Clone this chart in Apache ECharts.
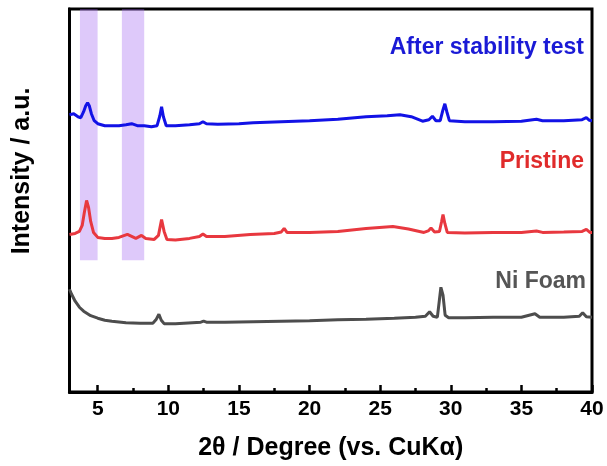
<!DOCTYPE html>
<html><head><meta charset="utf-8">
<script src="https://cdn.jsdelivr.net/npm/echarts@6/dist/echarts.min.js"></script>
<style>html,body{margin:0;padding:0;background:#fff}#c{width:607px;height:466px}</style>
</head><body><div id="c"></div>
<script>
// 2θ (deg) and offset intensity (a.u.) pairs
const afterStability = [[3.0,278],[3.3,279],[3.6,276],[3.8,275],[4.0,281],[4.15,287],[4.28,290],[4.4,287],[4.55,279],[4.75,272],[5.0,269],[5.5,267],[6.0,267],[6.5,267],[7.0,268],[7.4,269],[7.8,267],[8.3,267],[8.8,266],[9.2,267],[9.4,277],[9.52,286],[9.65,276],[9.85,267],[10.5,267],[11.5,268],[12.2,269],[12.45,271],[12.7,269],[13.5,268.5],[15,269],[16,270],[18,271],[20,272],[22,273.5],[24,276],[25.5,277],[26.4,278],[27.2,276],[28.0,271.5],[28.45,273],[28.7,276.5],[28.95,272],[29.25,272],[29.45,283],[29.58,289],[29.72,281],[29.9,272],[31,271],[33,271],[35,271.5],[36.07,273.5],[36.5,272],[38,272],[39.3,273],[39.6,275],[39.8,272.5],[40,272]];
const pristine = [[3.0,158],[3.4,159],[3.7,161],[3.9,167],[4.05,180],[4.21,192],[4.35,185],[4.5,171],[4.7,160],[5.0,155],[5.5,154],[6.0,154],[6.5,155],[6.9,157],[7.1,158],[7.4,156],[7.7,154],[8.1,157],[8.4,154],[9.0,153],[9.3,157],[9.52,173],[9.7,161],[9.9,153],[10.5,152.5],[11.5,154],[12.2,156],[12.45,158.5],[12.7,156],[14,156],[15.8,158],[17.5,159],[18.0,160.5],[18.2,164],[18.4,160],[20,160],[22,161],[24,164],[25.9,166],[27,163.5],[28.1,160],[28.4,161.5],[28.6,164.5],[28.85,160.5],[29.2,161],[29.35,171],[29.45,178],[29.58,169],[29.75,160],[31,159.5],[33,160],[35,160],[36.07,161.5],[36.5,160],[38,160.5],[39.3,161],[39.6,163],[39.85,160],[40,160]];
const niFoam = [[3.0,103],[3.15,98],[3.4,91],[3.7,85],[4.0,81],[4.5,76.5],[5.0,74],[5.5,72],[6.0,71],[7.0,69.5],[8.0,69],[8.9,69],[9.15,73],[9.33,78],[9.5,72],[9.7,68.5],[10.5,68.5],[12.3,70],[12.5,71],[12.7,70],[14,70],[16,70.5],[18,71],[20,71.5],[22,72.5],[24,73],[26,74],[27.5,75],[28.2,76],[28.5,80.5],[28.75,76],[29.05,75],[29.2,93],[29.3,105],[29.35,106],[29.45,97],[29.6,77],[29.85,74.5],[31,74.5],[33,75],[35,75],[35.96,78.5],[36.3,75],[38,75],[39.1,76],[39.34,79.5],[39.6,75.5],[40,75]];
const bands = [[3.74,4.99],[6.71,8.29]];
const bandTop = 132;
const majorTicks = [5,10,15,20,25,30,35,40];
const minorTicks = [7.5,12.5,17.5,22.5,27.5,32.5,37.5];
const seriesNames = ['After stability test','Pristine','Ni Foam'];
const yTitle = 'Intensity / a.u.';

const chart = echarts.init(document.getElementById('c'));
const W = 607, H = 466;
const FONT = 'Liberation Sans, Arial';
chart.setOption({
  animation:false,
  grid:{left:69.5,right:15,top:9,bottom:73,show:true,borderColor:'#000',borderWidth:3,containLabel:false},
  xAxis:[{
    type:'value',min:3,max:40,
    name:'2θ / Degree (vs. CuKα)',nameLocation:'middle',nameGap:44,
    nameTextStyle:{fontFamily:FONT,fontWeight:'bold',fontSize:25,color:'#000'},
    axisLine:{show:true,onZero:false,lineStyle:{color:'#000',width:3}},
    axisTick:{show:true,inside:true,length:7,customValues:majorTicks,lineStyle:{color:'#000',width:2.5}},
    axisLabel:{customValues:majorTicks,margin:7,fontFamily:FONT,fontWeight:'bold',fontSize:21,color:'#000',showMinLabel:true,showMaxLabel:true},
    splitLine:{show:false}
  },{
    type:'value',min:3,max:40,position:'bottom',
    axisLine:{show:false},
    axisTick:{show:true,inside:true,length:4,customValues:minorTicks,lineStyle:{color:'#000',width:2.5}},
    axisLabel:{show:false},splitLine:{show:false}
  }],
  yAxis:{
    type:'value',min:0,max:384,
    axisLine:{show:true,lineStyle:{color:'#000',width:3}},
    axisTick:{show:false},axisLabel:{show:false},splitLine:{show:false}
  },
  series:[
    {name:seriesNames[0],type:'line',data:afterStability,symbol:'none',lineStyle:{color:'#1212e6',width:3},z:2},
    {name:seriesNames[1],type:'line',data:pristine,symbol:'none',lineStyle:{color:'#e8383f',width:3},z:2},
    {name:seriesNames[2],type:'line',data:niFoam,symbol:'none',lineStyle:{color:'#4d4d4d',width:3},z:2},
    {type:'line',data:[],symbol:'none',z:10,silent:true,
     markArea:{silent:true,itemStyle:{color:'rgba(160,100,240,0.35)'},
       data:bands.map(b=>[{xAxis:b[0],yAxis:bandTop},{xAxis:b[1],yAxis:384}])}}
  ],
  graphic:[
    {type:'text',x:22,y:171,rotation:Math.PI/2,style:{text:yTitle,align:'center',verticalAlign:'middle',fontFamily:FONT,fontWeight:'bold',fontSize:25,fill:'#000'}},
    {type:'text',right:W-584,top:36,style:{text:seriesNames[0],fontFamily:FONT,fontWeight:'bold',fontSize:23,fill:'#1a1ad6'}},
    {type:'text',right:W-584,top:150,style:{text:seriesNames[1],fontFamily:FONT,fontWeight:'bold',fontSize:23,fill:'#e02b2b'}},
    {type:'text',right:W-586,top:270,style:{text:seriesNames[2],fontFamily:FONT,fontWeight:'bold',fontSize:23,fill:'#555555'}}
  ]
});
</script></body></html>
